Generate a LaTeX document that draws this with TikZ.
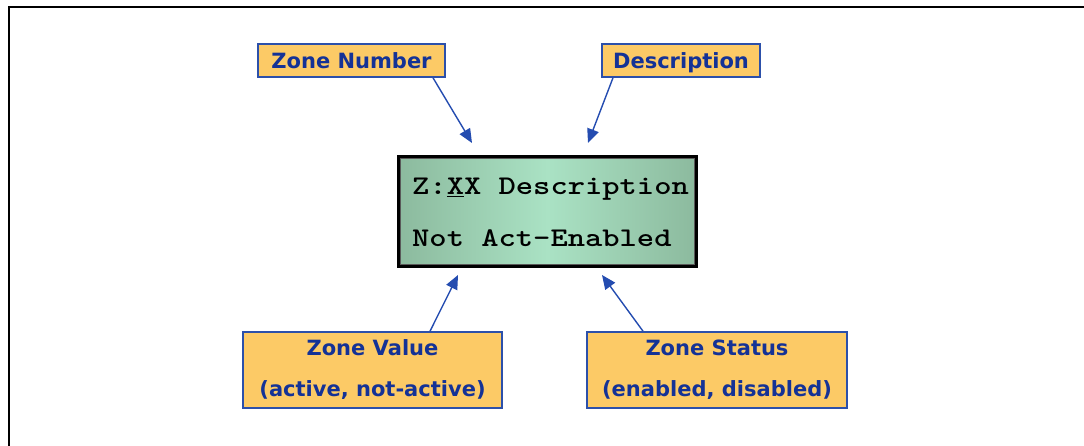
\documentclass[tikz,border=0pt]{standalone}
\usepackage{fontspec}
\setmainfont{DejaVu Sans}
\newfontfamily\lcdfont{lmmonolt10-bold}[Extension=.otf, FakeStretch=1.22]
\usetikzlibrary{arrows.meta,calc}

\definecolor{tagfill}{RGB}{252,202,102}
\definecolor{tagedge}{RGB}{44,80,170}
\definecolor{tagtext}{RGB}{20,50,150}
\definecolor{arrowblue}{RGB}{36,76,176}
\definecolor{lcdedge}{RGB}{140,186,158}
\definecolor{lcdmid}{RGB}{170,226,196}

\tikzset{
  tag/.style={draw=tagedge, line width=1.6pt, fill=tagfill, text=tagtext,
    font=\fontsize{21}{26}\selectfont\bfseries, inner sep=0pt, align=center},
  onetag/.style={tag, minimum height=33pt, text height=17pt, text depth=0pt},
  twotag/.style={tag, minimum height=76pt},
  pointer/.style={draw=arrowblue, line width=1.4pt,
    -{Triangle[length=14pt,width=12pt]}},
  lcdtext/.style={anchor=base west, inner sep=0pt,
    font=\lcdfont\fontsize{27}{32}\selectfont}
}

\begin{document}
\begin{tikzpicture}[x=1pt,y=-1pt]
  \useasboundingbox (0,0) rectangle (1084,446);

  % figure frame
  \draw[line width=2pt] (1084,7) -- (9,7) -- (9,446);

  % LCD display
  \node[draw=black, line width=4.5pt, left color=lcdedge, right color=lcdedge,
        middle color=lcdmid, minimum width=297pt, minimum height=109pt,
        inner sep=0pt] (lcd) at (547.5,211.5) {};
  \draw[gray!70!black, line width=0.8pt]
    ($(lcd.north west)+(3.6,3.6)$) rectangle ($(lcd.south east)+(-3.6,-3.6)$);
  \node[lcdtext] (line1) at (412,195) {Z:\underline{X}X Description};
  \node[lcdtext] (line2) at (412,247) {Not Act-Enabled};

  % labels
  \node[onetag, minimum width=187pt] (zn) at (351.5,60.5) {Zone Number};
  \node[onetag, minimum width=158pt] (desc) at (681,60.5) {Description};
  \node[twotag, minimum width=259pt] (zv) at (372.5,370)
    {Zone Value\\[15pt](active, not-active)};
  \node[twotag, minimum width=260pt] (zs) at (717,370)
    {Zone Status\\[15pt](enabled, disabled)};

  % arrow tips just outside the display
  \coordinate (tipzn) at (472,143);
  \coordinate (tipdesc) at (588,143);
  \coordinate (tipzv) at (458,275);
  \coordinate (tipzs) at (602,275);

  \draw[pointer] ([xshift=81.5pt]zn.south) -- (tipzn);
  \draw[pointer] ([xshift=-68pt]desc.south) -- (tipdesc);
  \draw[pointer] ([xshift=57.5pt]zv.north) -- (tipzv);
  \draw[pointer] ([xshift=-74pt]zs.north) -- (tipzs);
\end{tikzpicture}
\end{document}
